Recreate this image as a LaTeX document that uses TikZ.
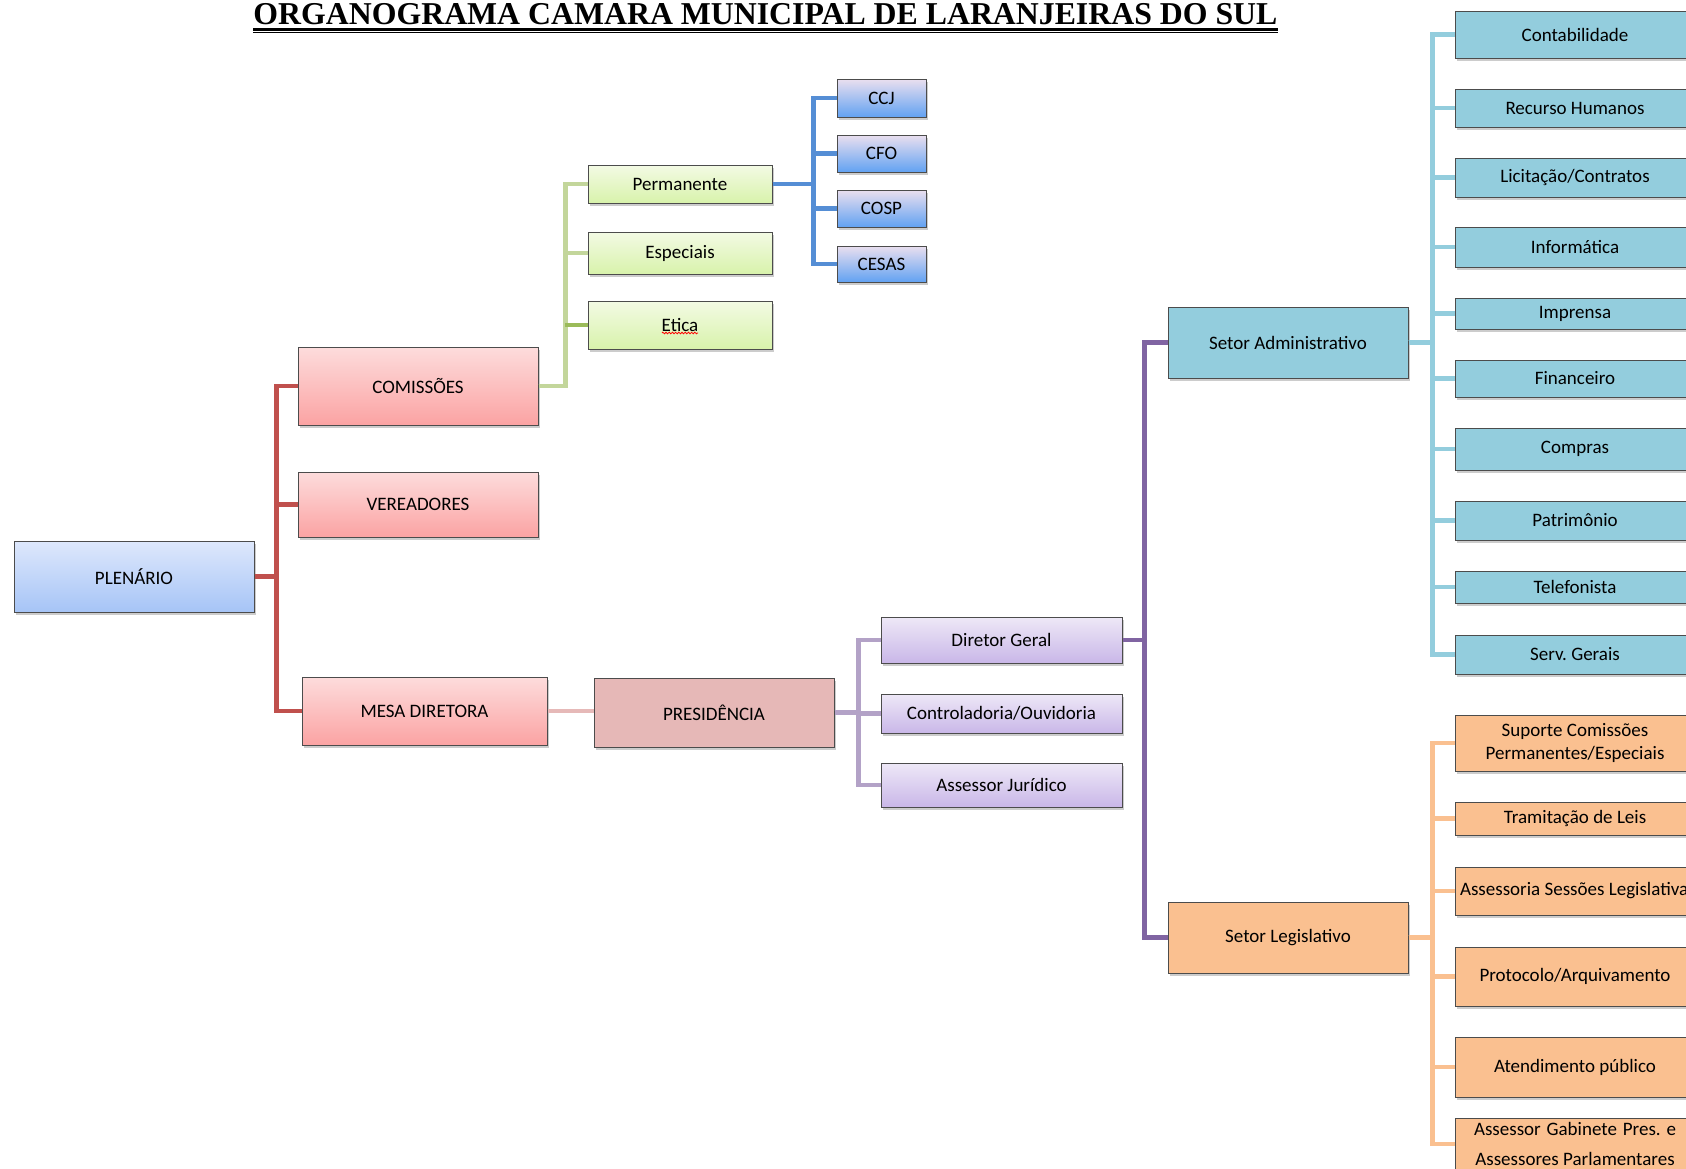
\documentclass[tikz,border=0pt]{standalone}
\usepackage{fontspec}
\setmainfont{Carlito}
\newfontfamily\titlefont{Liberation Serif}
\usepackage{tikz}
\usetikzlibrary{positioning, shadows, decorations.pathmorphing}
\frenchspacing

\definecolor{redtop}{HTML}{FDDCDC}
\definecolor{redbot}{HTML}{FBA3A3}
\definecolor{plentop}{HTML}{DEE8FC}
\definecolor{plenbot}{HTML}{A6C4F6}
\definecolor{greentop}{HTML}{F3FAE4}
\definecolor{greenbot}{HTML}{D8F3AB}
\definecolor{comtop}{HTML}{EADFEF}
\definecolor{combot}{HTML}{62A2F2}
\definecolor{purtop}{HTML}{EEE8F7}
\definecolor{purbot}{HTML}{C9B7E8}
\definecolor{presfill}{HTML}{E6B8B7}
\definecolor{admfill}{HTML}{93CDDD}
\definecolor{legfill}{HTML}{FAC090}
\definecolor{redline}{HTML}{C0504D}
\definecolor{greenline}{HTML}{C3D69B}
\definecolor{oliveline}{HTML}{9BBB59}
\definecolor{blueline}{HTML}{558ED5}
\definecolor{pinkline}{HTML}{E6B9B8}
\definecolor{lilacline}{HTML}{B3A2C7}
\definecolor{purpleline}{HTML}{8064A2}
\definecolor{aqualine}{HTML}{93CDDD}
\definecolor{orangeline}{HTML}{FAC090}

\tikzset{
  box/.style={rectangle, draw=black!70, line width=0.5pt, inner sep=0pt, align=center,
    font=\fontsize{9.5}{11.5}\selectfont, minimum width=120pt,
    drop shadow={shadow xshift=0.8pt, shadow yshift=-1.6pt, opacity=0.2, fill=black}},
  redbox/.style={box, top color=redtop, bottom color=redbot},
  plenbox/.style={box, top color=plentop, bottom color=plenbot},
  greenbox/.style={box, top color=greentop, bottom color=greenbot, minimum width=92pt},
  combox/.style={box, top color=comtop, bottom color=combot, minimum width=44.5pt},
  purbox/.style={box, top color=purtop, bottom color=purbot, minimum width=120.5pt},
  presbox/.style={box, fill=presfill},
  admbox/.style={box, fill=admfill},
  legbox/.style={box, fill=legfill},
  link/.style={line width=2.3pt}
}

\begin{document}
\begin{tikzpicture}[x=0.5pt, y=-0.5pt]
\useasboundingbox (0,0) rectangle (1686,1168);
\clip (0,0) rectangle (1686,1168);

% title
\node[font=\titlefont\bfseries\fontsize{15.9}{18}\selectfont, inner sep=0pt, anchor=base] (title) at (765.5,24.5) {ORGANOGRAMA CAMARA MUNICIPAL DE LARANJEIRAS DO SUL};
\draw[line width=1.35pt] ([yshift=-2.65pt]title.base west) -- ([yshift=-2.65pt]title.base east);
\draw[line width=0.6pt] ([yshift=-4.15pt]title.base west) -- ([yshift=-4.15pt]title.base east);

% left part
\node[plenbox, minimum height=35.5pt] (plenario) at (134,576.5) {PLENÁRIO};
\node[redbox, minimum height=39pt] (comissoes) at (418,386) {COMISSÕES};
\node[redbox, minimum height=32.5pt] (vereadores) at (418,504.5) {VEREADORES};
\node[redbox, minimum width=122.5pt, minimum height=34pt] (mesa) at (424.5,711) {MESA DIRETORA};
\node[presbox, minimum height=34.5pt] (presidencia) at (714,712.5) {PRESIDÊNCIA};

% comissoes
\node[greenbox, minimum height=19pt] (permanente) at (680,184) {Permanente};
\node[greenbox, minimum height=21pt] (especiais) at (680,253) {Especiais};
\node[greenbox, minimum height=24pt] (etica) at (680,325) {Etica};
\draw[red, line width=0.4pt, decorate, decoration={zigzag, segment length=1.6pt, amplitude=0.4pt}]
  ([xshift=-9pt, yshift=-4pt]etica.center) -- ([xshift=9pt, yshift=-4pt]etica.center);
\node[combox, minimum height=19pt] (ccj) at (881.5,98) {CCJ};
\node[combox, minimum height=18.5pt] (cfo) at (881.5,153.5) {CFO};
\node[combox, minimum height=18.5pt] (cosp) at (881.5,208.5) {COSP};
\node[combox, minimum height=18pt] (cesas) at (881.5,264) {CESAS};

% presidencia
\node[purbox, minimum height=23pt] (diretor) at (1001.5,640) {Diretor Geral};
\node[purbox, minimum height=19.5pt] (controladoria) at (1001.5,713.5) {Controladoria/Ouvidoria};
\node[purbox, minimum height=22pt] (juridico) at (1001.5,785) {Assessor Jurídico};

% setores
\node[admbox, minimum height=35.5pt] (setoradm) at (1288,342.5) {Setor Administrativo};
\node[legbox, minimum height=35.5pt] (setorleg) at (1288,937.5) {Setor Legislativo};

\node[admbox, minimum height=23.5pt] (contab) at (1575,34.5) {Contabilidade};
\node[admbox, minimum height=19pt] (rh) at (1575,108) {Recurso Humanos};
\node[admbox, minimum height=19.5pt] (licit) at (1575,177.5) {Licitação/Contratos};
\node[admbox, minimum height=20pt] (info) at (1575,247) {Informática};
\node[admbox, minimum height=15.5pt] (impr) at (1575,313.5) {Imprensa};
\node[admbox, minimum height=18.5pt] (fin) at (1575,378.5) {Financeiro};
\node[admbox, minimum height=21pt] (compras) at (1575,449) {Compras};
\node[admbox, minimum height=19.5pt] (patr) at (1575,520.5) {Patrimônio};
\node[admbox, minimum height=16pt] (tel) at (1575,587) {Telefonista};
\node[admbox, minimum height=19.5pt] (serv) at (1575,654.5) {Serv. Gerais};

\node[legbox, minimum height=28pt] (suporte) at (1575,743) {Suporte Comissões\\Permanentes/Especiais};
\node[legbox, minimum height=16.5pt] (tram) at (1575,818.5) {Tramitação de Leis};
\node[legbox, minimum height=24pt] (sessoes) at (1575,891) {\makebox[115pt][l]{Assessoria Sessões Legislativas}};
\node[legbox, minimum height=29.5pt] (protocolo) at (1575,976.5) {Protocolo/Arquivamento};
\node[legbox, minimum height=30pt] (atend) at (1575,1067) {Atendimento público};
\node[legbox, minimum height=26pt] (gabinete) at (1575,1144) {\makebox[101pt][s]{Assessor Gabinete Pres. e}\\[3.5pt]Assessores Parlamentares};

% links
\foreach \c in {comissoes,vereadores,mesa}
  \draw[link, redline] (plenario.east) -- ++(22,0) |- (\c.west);
\foreach \c in {permanente,especiais,etica}
  \draw[link, greenline] (comissoes.east) -- ++(27,0) |- (\c.west);
\draw[link, oliveline] (etica.west) -- ++(-23,0);
\foreach \c in {ccj,cfo,cosp,cesas}
  \draw[link, blueline] (permanente.east) -- ++(41,0) |- (\c.west);
\draw[link, pinkline] (mesa.east) -- (mesa.east -| presidencia.west);
\foreach \c in {diretor,controladoria,juridico}
  \draw[link, lilacline] (presidencia.east) -- ++(24,0) |- (\c.west);
\foreach \c in {setoradm,setorleg}
  \draw[link, purpleline] (diretor.east) -- ++(22,0) |- (\c.west);
\foreach \c in {contab,rh,licit,info,impr,fin,compras,patr,tel,serv}
  \draw[link, aqualine] (setoradm.east) -- ++(24,0) |- (\c.west);
\foreach \c in {suporte,tram,sessoes,protocolo,atend,gabinete}
  \draw[link, orangeline] (setorleg.east) -- ++(24,0) |- (\c.west);
\end{tikzpicture}
\end{document}
